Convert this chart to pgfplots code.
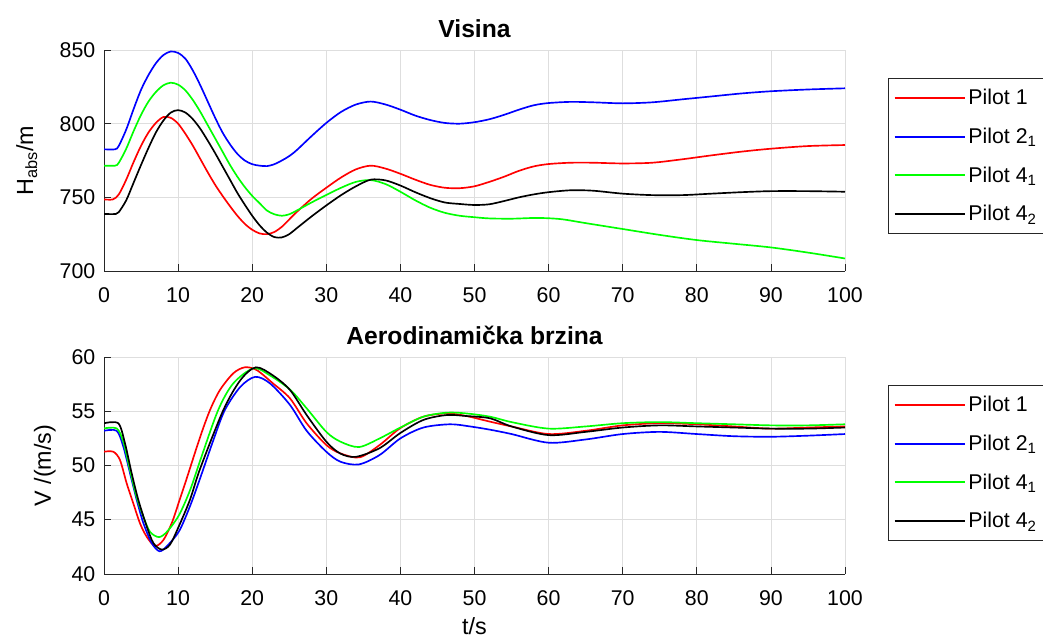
\documentclass[border=0pt]{standalone}
\usepackage{fontspec}
\setmainfont{Liberation Sans}
\usepackage{pgfplots}
\pgfplotsset{compat=1.18}

\definecolor{axgray}{rgb}{0.15,0.15,0.15}

\pgfplotsset{
  legend image code/.code={\draw[#1, line width=1.5pt] (0pt,0pt) -- (52.5pt,0pt);},
  panel/.style={
    scale only axis, width=555.75pt,
    xmin=0, xmax=100, xtick={0,10,...,100},
    axis x line*=bottom, axis y line*=left,
    tick align=inside, major tick length=5pt,
    grid=major, grid style={black!13, line width=0.6pt},
    axis line style={axgray, line width=0.6pt},
    tick style={axgray, line width=0.6pt},
    ticklabel style={font=\fontsize{16}{18}\selectfont},
    xticklabel shift=9pt, yticklabel shift=3pt,
    /pgf/number format/assume math mode=true,
    title style={font=\bfseries\fontsize{18.5}{21}\selectfont},
    label style={font=\fontsize{17.5}{20}\selectfont},
    every axis plot/.append style={line width=1.25pt, no marks, smooth, tension=0.5},
    legend cell align=left,
    legend style={at={(1,1)}, anchor=north west, xshift=32.25pt, yshift=-21pt,
      draw=axgray, line width=0.6pt, font=\fontsize{16}{18}\selectfont,
      row sep=12pt, inner xsep=4pt, inner ysep=6pt},
  }
}

\begin{document}
\begin{tikzpicture}
\begin{axis}[panel, at={(78pt,-203.25pt)}, anchor=south west,
  height=165.75pt, ymin=700, ymax=850, ytick={700,750,800,850},
  title={Visina}, ylabel={H\textsubscript{abs}/m}, ylabel shift=10pt]
\addplot[red] coordinates {
(0,748.6) (1.2,748.6) (2,752) (3,762) (4,774) (5,785) (6,794) (7,800.5) (8,804.5)
(9,804) (10,800) (11,793) (12,785) (13,776) (14,767) (15,758.5) (16,751) (17,744)
(18,737.5) (19,732) (20,728) (21,725.5) (22,725) (23,726.5) (24,730) (25,735)
(26,740) (28,749) (30,756.5) (32,763.5) (34,769) (36,771.5) (38,769.5) (40,766)
(42,762) (44,758.5) (46,756.5) (48,756.2) (50,757.5) (52,760.5) (54,764) (56,768)
(58,771) (60,772.6) (63,773.5) (66,773.5) (70,773) (74,773.5) (78,775.8) (82,778.5)
(86,781) (90,783) (95,784.8) (100,785.5)};
\addplot[blue] coordinates {
(0,782.6) (1.5,782.6) (2,785) (3,796) (4,810) (5,823) (6,833) (7,841) (8,846.5)
(9,849) (10,848) (11,844) (12,836) (13,826) (14,815) (15,804) (16,794) (17,786)
(18,779.5) (19,775) (20,772.5) (21,771.5) (22,771.2) (23,772.5) (24,775) (25,778)
(26,782) (28,791.5) (30,800.5) (32,808) (34,813) (36,815) (38,813) (40,809.5)
(42,805.5) (44,802.5) (46,800.5) (48,800) (50,801) (52,803) (54,806) (56,809.5)
(58,812.5) (60,814) (63,814.8) (66,814.5) (70,813.8) (74,814.5) (78,816.5)
(82,818.5) (86,820.5) (90,822) (95,823.2) (100,824)};
\addplot[green] coordinates {
(0,771.5) (1.5,771.5) (2,773.5) (3,783) (4,795) (5,806) (6,815) (7,821.5) (8,826)
(9,827.8) (10,826.5) (11,822.5) (12,816) (13,808) (14,799) (15,790) (16,781)
(17,772) (18,764) (19,757) (20,751) (21,746) (22,741) (23,738.5) (24,737.5)
(25,738.5) (26,741) (28,746.5) (30,751.6) (32,756.5) (34,760.5) (36,761.7)
(38,759) (40,753.8) (42,748) (44,743) (46,739.5) (48,737.5) (50,736.5) (52,735.7)
(55,735.5) (58,736) (60,735.8) (62,735) (65,732.5) (70,728.5) (75,724.5) (80,721)
(85,718.5) (90,716) (95,712.5) (100,708.5)};
\addplot[black] coordinates {
(0,738.7) (1.6,738.7) (2,740) (3,748) (4,760) (5,772) (6,783.5) (7,794) (8,802)
(9,807.5) (10,809.2) (11,807.5) (12,803) (13,796.5) (14,788.5) (15,780) (16,771)
(17,762) (18,753) (19,745) (20,737.5) (21,731) (22,726) (23,723) (24,722.8)
(25,725) (26,729) (28,737) (30,744.5) (32,751.5) (34,757.5) (36,762) (38,761.5)
(40,758) (42,753.5) (44,749.5) (46,746.5) (48,745.5) (50,744.8) (52,745.3)
(54,747.5) (56,750) (58,752) (60,753.5) (63,754.8) (66,754.5) (70,752.5)
(74,751.5) (78,751.5) (82,752.5) (86,753.5) (90,754.2) (95,754.2) (100,753.8)};
\legend{Pilot 1\hspace*{25pt}, Pilot 2\textsubscript{1}, Pilot 4\textsubscript{1}, Pilot 4\textsubscript{2}}
\end{axis}

\begin{axis}[panel, at={(78pt,-430.5pt)}, anchor=south west,
  height=162.75pt, ymin=40, ymax=60, ytick={40,45,50,55,60},
  title={Aerodinamička brzina}, ylabel={V /(m/s)}, ylabel shift=5pt,
  xlabel={t/s}, xlabel shift=2pt]
\addplot[red] coordinates {
(0,51.27) (1.26,51.27) (2.16,50.5) (3.06,48.36) (3.96,46.5) (4.86,44.67)
(5.76,43.44) (6.88,42.58) (8.01,43.13) (9.13,44.67) (10.12,46.65) (11.16,48.8)
(12.96,52.6) (14.3,55.1) (15.65,56.96) (17.45,58.5) (19,59.05) (20.6,58.8)
(22.8,57.57) (25.1,56.19) (27.35,53.89) (30,51.89) (31.9,51.12) (34.5,50.75)
(37.2,51.89) (39.95,53.43) (43.1,54.5) (46.25,54.8) (48.9,54.56) (52.1,54.04)
(55,53.6) (60,52.9) (65,53.2) (70,53.7) (75,53.9) (80,53.8) (85,53.6) (90,53.4)
(95,53.5) (100,53.6)};
\addplot[blue] coordinates {
(0,53.2) (1.71,53.2) (2.6,51.76) (3.51,49.3) (4.41,46.84) (5.31,44.7) (6.43,42.86)
(7.47,42.1) (8.46,42.55) (10.12,43.93) (11.6,46.24) (12.96,48.8) (14.76,52.34)
(16.3,55.1) (18.4,57.25) (20.4,58.17) (22.4,57.57) (25.1,55.58) (27.35,53.2)
(30,51.27) (31.9,50.35) (34.4,50.1) (37.2,50.97) (40,52.5) (43.1,53.5) (46.7,53.8)
(49.4,53.6) (52.1,53.3) (55,52.9) (60,52.1) (65,52.4) (70,52.9) (75,53.1) (80,52.9)
(85,52.7) (90,52.65) (95,52.75) (100,52.9)};
\addplot[green] coordinates {
(0,53.42) (1.71,53.42) (2.6,52.2) (3.5,49.6) (4.4,47.1) (5.3,45.3) (6.2,43.9)
(7.4,43.4) (8.5,43.9) (10.1,45.4) (11.6,47.7) (13,50.5) (15.4,55.1) (17.45,57.57)
(20.2,58.96) (22.4,58.3) (25.1,57) (27.35,55.27) (30,53.1) (31.9,52.2) (34.4,51.7)
(37.2,52.5) (40,53.5) (43.1,54.5) (46.25,54.87) (48.9,54.8) (52.1,54.5) (55,54)
(60,53.4) (65,53.6) (70,53.9) (75,54) (80,53.9) (85,53.8) (90,53.7) (95,53.7)
(100,53.8)};
\addplot[black] coordinates {
(0,53.89) (1.93,53.89) (2.83,52.05) (3.73,49.3) (4.63,46.84) (5.76,44.4)
(6.66,42.86) (7.78,42.25) (8.9,42.7) (10.1,44.4) (11.6,46.84) (13,49.76)
(16.1,55.1) (18.4,57.86) (20.5,59.05) (22.8,58.3) (25.1,56.96) (27.35,54.65)
(30,52.2) (31.9,51.1) (34,50.8) (37.2,51.6) (40,53) (43.1,54.2) (46.25,54.65)
(48.9,54.56) (52.1,54.35) (55,53.6) (60,52.8) (65,53.1) (70,53.5) (75,53.7)
(80,53.6) (85,53.5) (90,53.4) (95,53.4) (100,53.5)};
\legend{Pilot 1\hspace*{25pt}, Pilot 2\textsubscript{1}, Pilot 4\textsubscript{1}, Pilot 4\textsubscript{2}}
\end{axis}
\pgfresetboundingbox
\path (0pt,0pt) rectangle (782.25pt,-479.25pt);
\end{tikzpicture}
\end{document}
